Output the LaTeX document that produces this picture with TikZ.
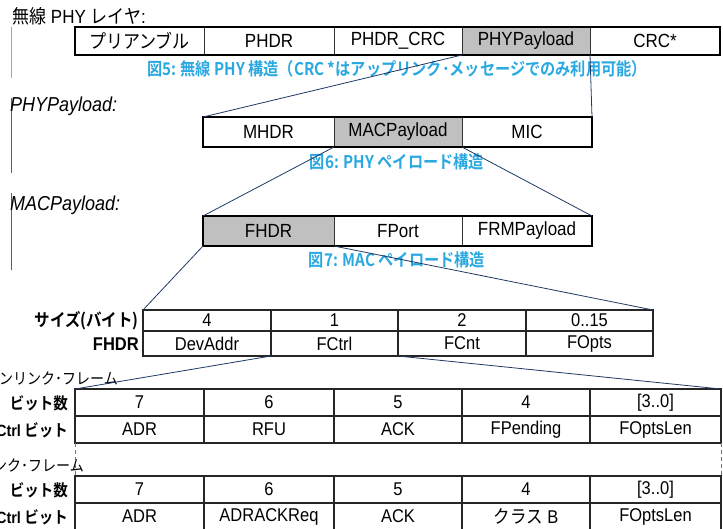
\documentclass[tikz,border=0pt]{standalone}
\usepackage{fontspec}
\usepackage{graphicx}
\setmainfont{Liberation Sans}
\newfontfamily\jp[BoldFont={Noto Sans CJK JP Bold}]{Noto Sans CJK JP}
\definecolor{capblue}{RGB}{41,168,225}
\definecolor{navy}{RGB}{31,56,100}
\definecolor{cellgray}{RGB}{192,192,192}
\newcommand{\fs}[1]{\fontsize{#1}{#1}\selectfont}
\newcommand{\vs}[1]{\scalebox{1}[1.12]{#1}}
\newcommand{\cs}[1]{\scalebox{1}[1.15]{#1}}
\tikzset{
  cell/.style={draw=black!80, line width=0.8pt, inner sep=0pt, outer sep=0pt, anchor=north west, font=\fs{17}},
  tcell/.style={draw=black!85, line width=1.3pt, inner sep=0pt, outer sep=0pt, anchor=north west, font=\fs{16.5}},
  graycell/.style={fill=cellgray},
  outer/.style={draw=black, line width=2.8pt},
  link/.style={draw=navy, line width=0.8pt},
  sideline/.style={draw=navy!80, line width=0.8pt},
  caption/.style={text=capblue, font=\jp\bfseries\fs{15.2}, inner sep=0pt},
  lbl/.style={font=\fs{18}\itshape, inner sep=0pt, anchor=west},
  rowlbl/.style={font=\jp\bfseries\fs{14.5}, inner sep=0pt, anchor=east},
  framelbl/.style={font=\jp\fs{14}, inner sep=0pt, anchor=east},
  dashv/.style={draw=navy!70, line width=1pt, dash pattern=on 4pt off 3pt}
}
\begin{document}
\begin{tikzpicture}[x=1pt,y=-1pt]
\useasboundingbox (0,0) rectangle (723,528);
% title
\node[inner sep=0pt, anchor=west, font=\fs{17}] (title) at (12,16) {\vs{{\jp 無線} PHY {\jp レイヤ}:}};
% left side lines
\coordinate (s1a) at (11,27); \coordinate (s1b) at (11,78);
\coordinate (s2a) at (11,98); \coordinate (s2b) at (11,173);
\coordinate (s3a) at (11,193); \coordinate (s3b) at (11,270);
\draw[draw=gray!70, line width=0.8pt] (s1a) -- (s1b);
\draw[sideline] (s2a) -- (s2b);
\draw[sideline] (s3a) -- (s3b);
% Box 1
\node[cell, minimum width=129pt, minimum height=28pt] (p1) at (75,27) {\vs{\jp プリアンブル}};
\node[cell, minimum width=130pt, minimum height=28pt] (p2) at (204,27) {\vs{PHDR}};
\node[cell, minimum width=128pt, minimum height=28pt] (p3) at (334,27) {\vs{PHDR\_CRC}};
\node[cell, graycell, minimum width=128pt, minimum height=28pt] (p4) at (462,27) {\vs{PHYPayload}};
\node[cell, minimum width=130pt, minimum height=28pt] (p5) at (590,27) {\vs{CRC*}};
\draw[outer] (p1.north west) rectangle (p5.south east);
\node[caption] (cap5) at (397,69) {\cs{図5: 無線 PHY 構造（CRC *はアップリンク･メッセージでのみ利用可能）}};
% Box 2
\node[lbl] (lphy) at (10,106) {\vs{PHYPayload:}};
\node[cell, minimum width=131pt, minimum height=30pt] (m1) at (203,117) {\vs{MHDR}};
\node[cell, graycell, minimum width=128pt, minimum height=30pt] (m2) at (334,117) {\vs{MACPayload}};
\node[cell, minimum width=130pt, minimum height=30pt] (m3) at (462,117) {\vs{MIC}};
\draw[outer] (m1.north west) rectangle (m3.south east);
\node[caption] (cap6) at (397,162) {\cs{図6: PHY ペイロード構造}};
% Box 3
\node[lbl] (lmac) at (10,205) {\vs{MACPayload:}};
\node[cell, graycell, minimum width=131pt, minimum height=30pt] (f1) at (203,216) {\vs{FHDR}};
\node[cell, minimum width=128pt, minimum height=30pt] (f2) at (334,216) {\vs{FPort}};
\node[cell, minimum width=130pt, minimum height=30pt] (f3) at (462,216) {\vs{FRMPayload}};
\draw[outer] (f1.north west) rectangle (f3.south east);
\node[caption] (cap7) at (397,260) {\cs{図7: MAC ペイロード構造}};
% FHDR table
\node[rowlbl, font=\jp\bfseries\fs{15.5}] (hs) at (139,321) {\vs{サイズ(バイト)}};
\node[rowlbl, font=\bfseries\fs{16.5}] (hf) at (139,344) {\vs{FHDR}};
\node[tcell, minimum width=128pt, minimum height=21pt] (h1) at (143,310) {\vs{4}};
\node[tcell, minimum width=127pt, minimum height=21pt] (h2) at (271,310) {\vs{1}};
\node[tcell, minimum width=128pt, minimum height=21pt] (h3) at (398,310) {\vs{2}};
\node[tcell, minimum width=127pt, minimum height=21pt] (h4) at (526,310) {\vs{0..15}};
\node[tcell, minimum width=128pt, minimum height=25pt] (g1) at (143,331) {\vs{DevAddr}};
\node[tcell, minimum width=127pt, minimum height=25pt] (g2) at (271,331) {\vs{FCtrl}};
\node[tcell, minimum width=128pt, minimum height=25pt] (g3) at (398,331) {\vs{FCnt}};
\node[tcell, minimum width=127pt, minimum height=25pt] (g4) at (526,331) {\vs{FOpts}};
% Downlink table
\node[framelbl] (dl) at (118,378) {\vs{ダウンリンク･フレーム}};
\node[rowlbl] (db) at (68,403) {\vs{ビット数}};
\node[rowlbl] (dc) at (68,430) {\vs{{\rmfamily FCtrl} ビット}};
\node[tcell, minimum width=129pt, minimum height=27pt] (d1) at (75,389) {\vs{7}};
\node[tcell, minimum width=130pt, minimum height=27pt] (d2) at (204,389) {\vs{6}};
\node[tcell, minimum width=128pt, minimum height=27pt] (d3) at (334,389) {\vs{5}};
\node[tcell, minimum width=128pt, minimum height=27pt] (d4) at (462,389) {\vs{4}};
\node[tcell, minimum width=131pt, minimum height=27pt] (d5) at (590,389) {\vs{[3..0]}};
\node[tcell, minimum width=129pt, minimum height=27pt] (e1) at (75,416) {\vs{ADR}};
\node[tcell, minimum width=130pt, minimum height=27pt] (e2) at (204,416) {\vs{RFU}};
\node[tcell, minimum width=128pt, minimum height=27pt] (e3) at (334,416) {\vs{ACK}};
\node[tcell, minimum width=128pt, minimum height=27pt] (e4) at (462,416) {\vs{FPending}};
\node[tcell, minimum width=131pt, minimum height=27pt] (e5) at (590,416) {\vs{FOptsLen}};
% Uplink table
\node[framelbl] (ul) at (84,466) {\vs{アップリンク･フレーム}};
\node[rowlbl] (ub) at (68,490) {\vs{ビット数}};
\node[rowlbl] (uc) at (68,517) {\vs{{\rmfamily FCtrl} ビット}};
\node[tcell, minimum width=129pt, minimum height=27pt] (u1) at (75,476) {\vs{7}};
\node[tcell, minimum width=130pt, minimum height=27pt] (u2) at (204,476) {\vs{6}};
\node[tcell, minimum width=128pt, minimum height=27pt] (u3) at (334,476) {\vs{5}};
\node[tcell, minimum width=128pt, minimum height=27pt] (u4) at (462,476) {\vs{4}};
\node[tcell, minimum width=131pt, minimum height=27pt] (u5) at (590,476) {\vs{[3..0]}};
\node[tcell, minimum width=129pt, minimum height=27pt] (v1) at (75,503) {\vs{ADR}};
\node[tcell, minimum width=130pt, minimum height=27pt] (v2) at (204,503) {\vs{ADRACKReq}};
\node[tcell, minimum width=128pt, minimum height=27pt] (v3) at (334,503) {\vs{ACK}};
\node[tcell, minimum width=128pt, minimum height=27pt] (v4) at (462,503) {\vs{{\jp クラス} B}};
\node[tcell, minimum width=131pt, minimum height=27pt] (v5) at (590,503) {\vs{FOptsLen}};
% dashed connectors between tables
\draw[dashv] (e1.south west) -- (u1.north west);
\draw[dashv] (e5.south east) -- (u5.north east);
% zoom connectors
\draw[link] (p4.south west) -- (m1.north west);
\draw[link] (p4.south east) -- (m3.north east);
\draw[link] (m2.south west) -- (f1.north west);
\draw[link] (m2.south east) -- (f3.north east);
\draw[link] (f1.south west) -- (h1.north west);
\draw[link] (f1.south east) -- (h4.north east);
\draw[link] (g2.south west) -- (d1.north west);
\draw[link] (g2.south east) -- (d5.north east);
\end{tikzpicture}
\end{document}
